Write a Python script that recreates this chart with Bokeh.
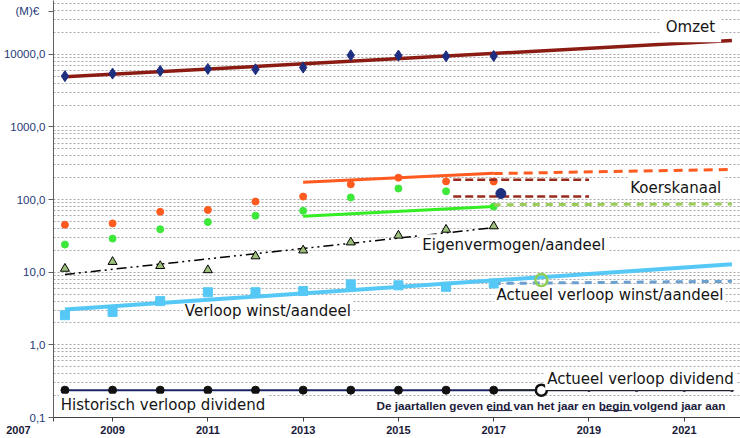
from bokeh.plotting import figure
from bokeh.models import Range1d, FixedTicker, CustomJSTickFormatter, Label
from bokeh.embed import file_html
from bokeh.resources import INLINE

# ---------------- data ----------------
years = [2008, 2009, 2010, 2011, 2012, 2013, 2014, 2015, 2016, 2017]
omzet = [5000, 5420, 5900, 6290, 6220, 6560, 9690, 9600, 9390, 9480]
omzet_trend_x = [2008, 2022]
omzet_trend = [4900, 15500]

koers_hoog = [45, 47, 68, 72, 94, 110, 162, 200, 178, 177]
koers_laag = [24, 29, 39, 49, 60, 70, 107, 142, 130, 80]
kanaal_x = [2013, 2017]
kanaal_hoog = [173, 230]
kanaal_laag = [59, 80]
kanaal_prog_x = [2017, 2022]
kanaal_hoog_prog = [228, 260]
kanaal_laag_prog = [85, 87]
band_x = [2016.15, 2019]
band_hoog = [187, 187]
band_laag = [110, 110]
koers_actueel_x = [2017.15]
koers_actueel = [121]

eigen_verm = [11.2, 13.9, 12.2, 10.7, 16.6, 20.0, 25.8, 32.0, 38.6, 43.0]
eigen_trend_x = [2008, 2017]
eigen_trend = [9.3, 41]

winst = [2.56, 2.84, 4.0, 5.3, 5.3, 5.5, 6.8, 6.6, 6.3, 7.0]
winst_trend_x = [2008, 2022]
winst_trend = [3.07, 12.9]
winst_actueel_x = [2017, 2022]
winst_actueel = [7.0, 7.5]
winst_punt_x = [2018]
winst_punt = [7.8]

dividend = [0.238, 0.238, 0.238, 0.238, 0.238, 0.238, 0.238, 0.238, 0.238, 0.238]
div_lijn_x = [2008, 2022]
div_lijn = [0.238, 0.238]
div_act_x = [2017, 2022]
div_act = [0.238, 0.238]
div_open_x = [2018]
div_open = [0.238]
div_prog_x = [2019, 2020, 2021, 2022]
div_prog = [0.238, 0.238, 0.238, 0.238]

y_major = [0.1, 1, 10, 100, 1000, 10000]
y_minor = [m * 10 ** e for e in range(-1, 5) for m in range(2, 10)]
y_unit_pos = 39200          # where the unit caption "(M)€" sits on the value axis
x_ticks = [2009, 2011, 2013, 2015, 2017, 2019, 2021]
x_first = 2007.761          # left edge of the year axis, captioned "2007"

# ---------------- figure ----------------
p = figure(width=740, height=438, y_axis_type="log",
           x_range=Range1d(2007.76, 2022.18), y_range=Range1d(0.1, 55000),
           output_backend="svg", toolbar_location=None,
           min_border_left=53, min_border_right=0, min_border_top=0, min_border_bottom=0)
p.outline_line_color = None
p.background_fill_color = "white"

p.xgrid.grid_line_color = None
p.ygrid.ticker = FixedTicker(ticks=y_major, minor_ticks=y_minor)
p.ygrid.grid_line_color = "#a8a8a8"
p.ygrid.grid_line_dash = "2 2"
p.ygrid.minor_grid_line_color = "#a8a8a8"
p.ygrid.minor_grid_line_dash = "2 2"

p.yaxis.ticker = FixedTicker(ticks=y_major + [y_unit_pos], minor_ticks=[])
p.yaxis.formatter = CustomJSTickFormatter(code="""
    if (tick > 20000) { return '(M)\u20ac\u00a0\u00a0'; }
    return tick.toFixed(1).replace('.', ',');
""")
p.yaxis.major_label_text_font = "Liberation Sans"
p.yaxis.major_label_text_font_size = "11.5px"
p.yaxis.major_label_text_color = "#1f3a78"
p.yaxis.major_tick_out = 5
p.yaxis.major_tick_in = 0
p.yaxis.minor_tick_line_color = None
p.yaxis.major_label_standoff = 3
p.yaxis.axis_line_color = "#606060"
p.yaxis.major_tick_line_color = "#606060"

p.xaxis.ticker = FixedTicker(ticks=[x_first] + x_ticks, minor_ticks=[])
p.xaxis.formatter = CustomJSTickFormatter(code="""
    if (tick < 2008) { return '2007' + '\u00a0'.repeat(23); }
    return tick.toFixed(0);
""")
p.xaxis.major_label_text_font = "Liberation Sans"
p.xaxis.major_label_text_font_style = "bold"
p.xaxis.major_label_text_font_size = "11px"
p.xaxis.major_label_text_color = "#1a1a3a"
p.xaxis.major_tick_out = 4
p.xaxis.major_tick_in = 0
p.xaxis.major_label_standoff = 2
p.xaxis.axis_line_color = "#404040"
p.xaxis.major_tick_line_color = "#404040"

# ---------------- glyphs ----------------
# Omzet
p.line(omzet_trend_x, omzet_trend, line_color="#8b1c14", line_width=3.5)
p.scatter(years, omzet, marker="diamond", size=11, color="#1f2f80")

# Koerskanaal
p.scatter(years, koers_hoog, marker="circle", size=7, color="#ff5a1f")
p.scatter(years, koers_laag, marker="circle", size=7, color="#3ee83a")
p.line(kanaal_x, kanaal_hoog, line_color="#ff5a1f", line_width=3)
p.line(kanaal_x, kanaal_laag, line_color="#33ee22", line_width=3)
p.line(kanaal_prog_x, kanaal_hoog_prog, line_color="#ff5a1f", line_width=3, line_dash="9 6")
p.line(kanaal_prog_x, kanaal_laag_prog, line_color="#9acd55", line_width=3, line_dash="7 6")
p.line(band_x, band_hoog, line_color="#9b2a1e", line_width=2.5, line_dash="8 4")
p.line(band_x, band_laag, line_color="#9b2a1e", line_width=2.5, line_dash="8 4")
p.scatter(koers_actueel_x, koers_actueel, marker="circle", size=10, color="#1f2f7f")

# Eigenvermogen
p.line(eigen_trend_x, eigen_trend, line_color="black", line_width=1.5, line_dash="10 4 2 4 2 4")
p.scatter(years, eigen_verm, marker="triangle", size=9, fill_color="#9cbf7a",
          line_color="black", line_width=1)

# Winst
p.line(winst_trend_x, winst_trend, line_color="#55c8f5", line_width=4, level="overlay")
p.line(winst_actueel_x, winst_actueel, line_color="#6a9fd0", line_width=3, line_dash="7 6",
       level="overlay")
p.scatter(years, winst, marker="square", size=9, color="#55c8f5", level="overlay")
p.scatter(winst_punt_x, winst_punt, marker="circle", size=12, fill_color=None,
          line_color="#8fcf55", line_width=2.5, level="overlay")

# Dividend
p.line(div_lijn_x, div_lijn, line_color="#1c2466", line_width=2)
p.line(div_act_x, div_act, line_color="#222222", line_width=1.5)
p.scatter(years, dividend, marker="circle", size=8, color="#111111")
p.scatter(div_open_x, div_open, marker="circle", size=11, fill_color="white",
          line_color="#111111", line_width=2.5)
p.scatter(div_prog_x, div_prog, marker="circle", size=3, color="#333344")

# ---------------- texts ----------------
def lab(x, y, text, align="center", size="15px", font="DejaVu Sans", bold=False,
        color="#151515", pad=2, bg="white"):
    l = Label(x=x, y=y, text=text, text_align=align, text_baseline="middle",
              text_font=font, text_font_size=size, text_color=color,
              text_font_style="bold" if bold else "normal",
              background_fill_color=bg, padding=pad)
    p.add_layout(l)
    return l

lab(2021.13, 23500, "Omzet", pad=6)
lab(2020.82, 146, "Koerskanaal")
lab(2017.42, 23.5, "Eigenvermogen/aandeel")
lab(2019.44, 4.83, "Actueel verloop winst/aandeel")
lab(2012.26, 2.95, "Verloop winst/aandeel")
lab(2010.06, 0.15, "Historisch verloop dividend")
lab(2020.08, 0.34, "Actueel verloop dividend")
lab(2014.54, 0.145, "De jaartallen geven eind van het jaar en begin volgend jaar aan",
    align="left", size="11.7px", font="Liberation Sans", bold=True, color="#1c1c3c", pad=0)

# underline of "eind" and "begin" in the footnote
p.segment(x0=[2016.88, 2019.23], y0=[0.1245, 0.1245], x1=[2017.39, 2019.90], y1=[0.1245, 0.1245],
          line_color="#1c1c3c", line_width=1, level="overlay")

open("out.html", "w").write(file_html(p, INLINE))
